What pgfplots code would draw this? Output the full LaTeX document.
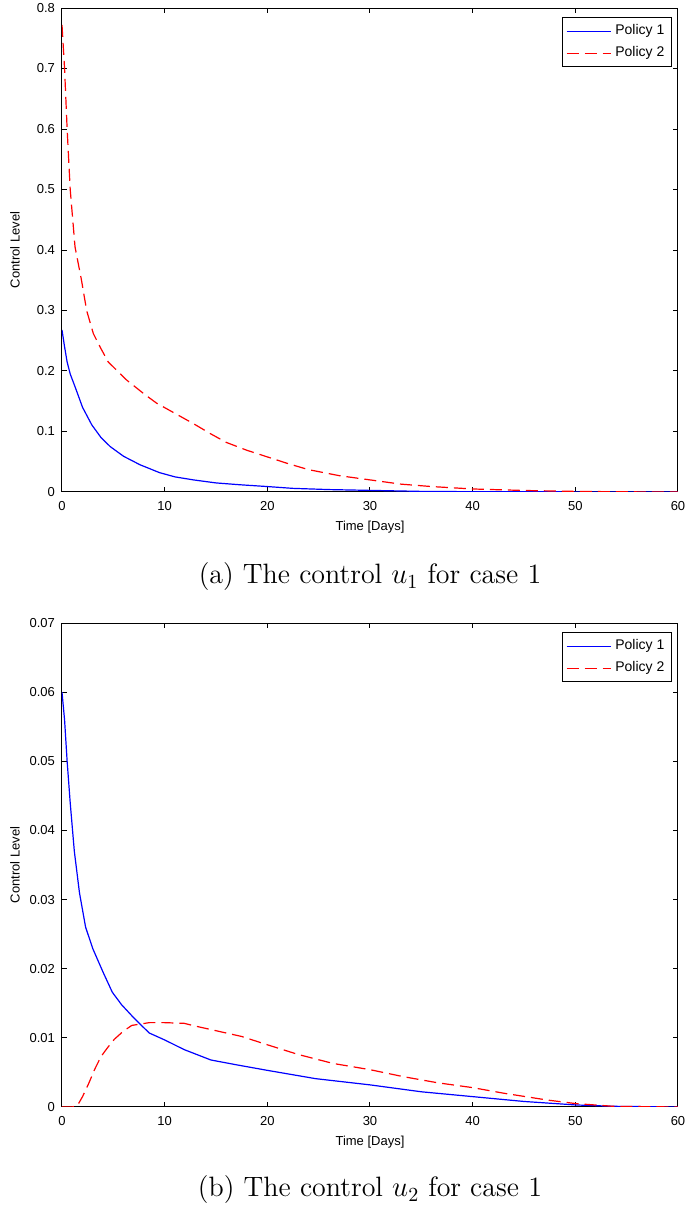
\documentclass[border=0pt]{standalone}
\usepackage{pgfplots}
\pgfplotsset{compat=1.18}
\usepackage{fontspec}
\newfontfamily\axfont{Liberation Sans}
\definecolor{mblue}{RGB}{0,0,255}
\definecolor{mred}{RGB}{255,0,0}
\pgfplotstableread{
t v
0 0.268
0.25 0.24
0.5 0.215
0.8 0.195
1.27 0.174
2 0.14
2.9 0.111
3.8 0.09
4.7 0.075
6 0.059
7.6 0.045
9.5 0.032
11 0.025
12.8 0.020
15 0.015
17.3 0.012
20 0.009
22.5 0.006
26 0.004
29 0.003
35 0.001
40 0.0005
50 0.0002
60 0
}\topblue
\pgfplotstableread{
t v
0 0.772
0.25 0.70
0.5 0.60
0.8 0.50
1.27 0.405
1.9 0.35
2.4 0.30
3.05 0.262
3.7 0.24
4.5 0.215
6.3 0.185
8 0.162
9.2 0.147
11 0.130
12.8 0.113
14.5 0.096
16 0.082
18 0.069
20 0.058
22 0.047
24 0.037
27 0.027
30 0.020
33 0.013
36 0.009
40 0.005
45 0.0025
50 0.001
55 0.0003
60 0
}\topred
\pgfplotstableread{
t v
0 0.060
0.25 0.056
0.5 0.050
0.8 0.044
1.2 0.037
1.7 0.031
2.3 0.026
3 0.0229
4 0.0195
4.9 0.0166
5.8 0.0148
6.8 0.0132
7.6 0.0120
8.5 0.0107
10 0.0097
11.9 0.0083
14.5 0.0068
17 0.0061
20 0.0053
24.7 0.0041
30 0.0032
35 0.0022
40 0.0015
45 0.0008
50 0.0003
53.7 0.0001
60 0
}\botblue
\pgfplotstableread{
t v
0 0
1 0
1.5 0.0002
2 0.0015
2.6 0.0034
3.2 0.0055
3.8 0.0073
4.5 0.0087
5.1 0.0098
6 0.0110
6.8 0.0118
8.5 0.0122
10 0.0122
11.9 0.0121
13 0.0117
14.5 0.0112
17.5 0.0102
20 0.0090
23 0.0076
26.4 0.0063
30 0.0054
33.2 0.0044
36.6 0.0035
40 0.0028
43 0.0020
47.3 0.0010
50 0.0005
53.7 0.0001
60 0
}\botred
\pgfplotsset{
  mystyle/.style={
    scale only axis, width=308pt, height=242pt,
    xmin=0, xmax=60, xtick={0,10,...,60},
    tick align=inside, major tick length=2.5pt,
    axis line style={line width=0.5pt},
    every tick/.style={black, line width=0.5pt},
    tick label style={font=\axfont\fontsize{6.5}{7}\selectfont},
    label style={font=\axfont\fontsize{6.5}{7}\selectfont},
    /pgf/number format/assume math mode=true,
    xlabel={Time [Days]},
    ylabel={Control Level},
    xlabel style={at={(axis description cs:0.5,-0.045)}, anchor=north},
    ylabel style={at={(axis description cs:-0.0763,0.5)}, anchor=center},
    xticklabel style={yshift=-1pt},
    legend style={at={(axis description cs:0.990,0.981)}, anchor=north east,
      font=\axfont\fontsize{7}{8}\selectfont, draw=black, line width=0.5pt,
      inner sep=1.5pt, row sep=0.5pt},
    legend cell align=left,
    legend image code/.code={\draw[#1] (0pt,0pt) -- (22pt,0pt);},
    scaled y ticks=false,
  }
}
\begin{document}
\begin{tikzpicture}[x=1pt,y=1pt]
\useasboundingbox (0,0) rectangle (342.5,603.5);
\begin{axis}[mystyle, at={(31pt,357.5pt)}, anchor=south west,
  ymin=0, ymax=0.8, ytick={0,0.1,...,0.8},
  yticklabel style={/pgf/number format/fixed, /pgf/number format/precision=1}]
\addlegendimage{draw=mblue, color=mblue, line width=0.7pt}
\addlegendentry{Policy 1}
\addlegendimage{draw=mred, color=mred, line width=0.7pt, dash pattern=on 6pt off 3pt}
\addlegendentry{Policy 2}
\addplot[mblue, line width=0.6pt, forget plot] table[x=t,y=v] {\topblue};
\addplot[mred, line width=0.6pt, dash pattern=on 6pt off 3pt, forget plot] table[x=t,y=v] {\topred};
\end{axis}
\node at (185pt,315pt) {\fontsize{14}{16}\selectfont (a) The control $u_1$ for case 1};
\begin{axis}[mystyle, at={(31pt,50pt)}, anchor=south west,
  ymin=0, ymax=0.07, ytick={0,0.01,0.02,0.03,0.04,0.05,0.06,0.07},
  yticklabel style={/pgf/number format/fixed, /pgf/number format/precision=2}]
\addlegendimage{draw=mblue, color=mblue, line width=0.7pt}
\addlegendentry{Policy 1}
\addlegendimage{draw=mred, color=mred, line width=0.7pt, dash pattern=on 6pt off 3pt}
\addlegendentry{Policy 2}
\addplot[mblue, line width=0.6pt, forget plot] table[x=t,y=v] {\botblue};
\addplot[mred, line width=0.6pt, dash pattern=on 6pt off 3pt, forget plot] table[x=t,y=v] {\botred};
\end{axis}
\node at (185pt,8.5pt) {\fontsize{14}{16}\selectfont (b) The control $u_2$ for case 1};
\end{tikzpicture}
\end{document}
